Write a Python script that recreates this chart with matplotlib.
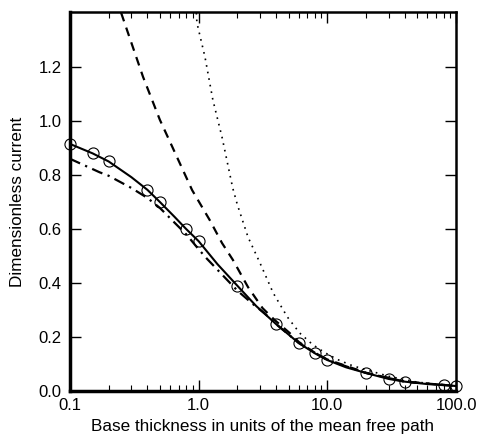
import matplotlib
matplotlib.use("Agg")
import matplotlib.pyplot as plt
from matplotlib.ticker import FixedLocator, FixedFormatter, LogLocator, NullFormatter

plt.rcParams['font.family'] = ['Liberation Sans', 'DejaVu Sans']

# circles on the solid curve
circ_x = [0.1, 0.15, 0.2, 0.4, 0.5, 0.8, 1.0, 2.0, 4.0, 6.0, 8.0, 10.0, 20.0, 30.0, 40.0, 80.0, 100.0]
circ_y = [0.915, 0.88, 0.85, 0.745, 0.70, 0.60, 0.555, 0.39, 0.248, 0.178, 0.14, 0.115, 0.067, 0.044, 0.035, 0.022, 0.019]

# solid curve (read between the circles too)
sol_x = [0.1, 0.15, 0.2, 0.3, 0.4, 0.5, 0.65, 0.8, 1.0, 1.4, 2.0, 2.8, 4.0, 6.0, 8.0, 10.0, 14.0, 20.0, 30.0, 40.0, 60.0, 80.0, 100.0]
sol_y = [0.915, 0.88, 0.85, 0.792, 0.745, 0.70, 0.645, 0.60, 0.555, 0.47, 0.39, 0.315, 0.248, 0.178, 0.14, 0.115, 0.088, 0.067, 0.045, 0.035, 0.026, 0.022, 0.019]

# dashed curve
dash_x = [0.25, 0.37, 0.5, 0.63, 0.89, 1.22, 1.52, 1.85, 2.42, 3.14, 3.9, 5.1, 6.0, 8.0, 10.0, 20.0, 40.0, 100.0]
dash_y = [1.40, 1.163, 1.004, 0.90, 0.744, 0.633, 0.548, 0.485, 0.385, 0.307, 0.263, 0.215, 0.182, 0.142, 0.117, 0.068, 0.035, 0.019]

# dotted curve
dot_x = [0.96, 0.97, 1.12, 1.29, 1.52, 1.84, 2.0, 2.42, 3.0, 3.8, 4.9, 6.1, 7.7, 9.6, 12.0, 15.5, 19.0, 30.0, 50.0, 100.0]
dot_y = [1.40, 1.363, 1.237, 1.078, 0.94, 0.752, 0.69, 0.57, 0.474, 0.363, 0.274, 0.215, 0.172, 0.142, 0.117, 0.095, 0.082, 0.055, 0.033, 0.019]

# dash-dot curve
dd_x = [0.1, 0.17, 0.2, 0.3, 0.4, 0.5, 0.63, 0.81, 1.0, 1.16, 2.0, 2.6, 3.27, 4.0, 6.0, 10.0, 20.0, 40.0, 100.0]
dd_y = [0.86, 0.81, 0.797, 0.752, 0.715, 0.678, 0.63, 0.578, 0.525, 0.49, 0.372, 0.325, 0.287, 0.248, 0.178, 0.115, 0.067, 0.035, 0.019]

y_ticks = [0.0, 0.2, 0.4, 0.6, 0.8, 1.0, 1.2]
x_ticks = [0.1, 1.0, 10.0, 100.0]
x_labels = ['0.1', '1.0', '10.0', '100.0']

fig = plt.figure(figsize=(4.79, 4.37), dpi=100)
ax = fig.add_axes([0.146, 0.105, 0.806, 0.868])

ax.plot(dot_x, dot_y, color='black', lw=1.2, linestyle=(0, (1, 3)))
ax.plot(dash_x, dash_y, color='black', lw=1.6, linestyle=(0, (4, 3)))
ax.plot(dd_x, dd_y, color='black', lw=1.6, linestyle=(0, (5, 2.5, 1, 2.5)))
ax.plot(sol_x, sol_y, color='black', lw=1.5)
ax.plot(circ_x, circ_y, linestyle='none', marker='o', markersize=8, color='black',
        markerfacecolor='none', markeredgewidth=0.8, clip_on=False)

ax.set_xscale('log')
ax.set_xlim(0.1, 100)
ax.set_ylim(0, 1.404)

ax.xaxis.set_major_locator(FixedLocator(x_ticks))
ax.xaxis.set_major_formatter(FixedFormatter(x_labels))
ax.xaxis.set_minor_locator(LogLocator(base=10, subs=range(2, 10)))
ax.xaxis.set_minor_formatter(NullFormatter())
ax.yaxis.set_major_locator(FixedLocator(y_ticks))
ax.set_yticklabels(['%.1f' % v for v in y_ticks])

ax.tick_params(which='both', direction='in', top=True, right=True, labelsize=12, colors='black')
ax.tick_params(which='major', length=8, width=1)
ax.tick_params(which='minor', length=4, width=0.8)
ax.tick_params(axis='x', pad=5)
ax.tick_params(axis='y', pad=6)

for side in ['left', 'bottom']:
    ax.spines[side].set_linewidth(2.5)
for side in ['top', 'right']:
    ax.spines[side].set_linewidth(1.8)

ax.set_xlabel('Base thickness in units of the mean free path', fontsize=12.3, labelpad=4)
ax.set_ylabel('Dimensionless current', fontsize=12.3, labelpad=10)

fig.savefig('out.png', dpi=100)
